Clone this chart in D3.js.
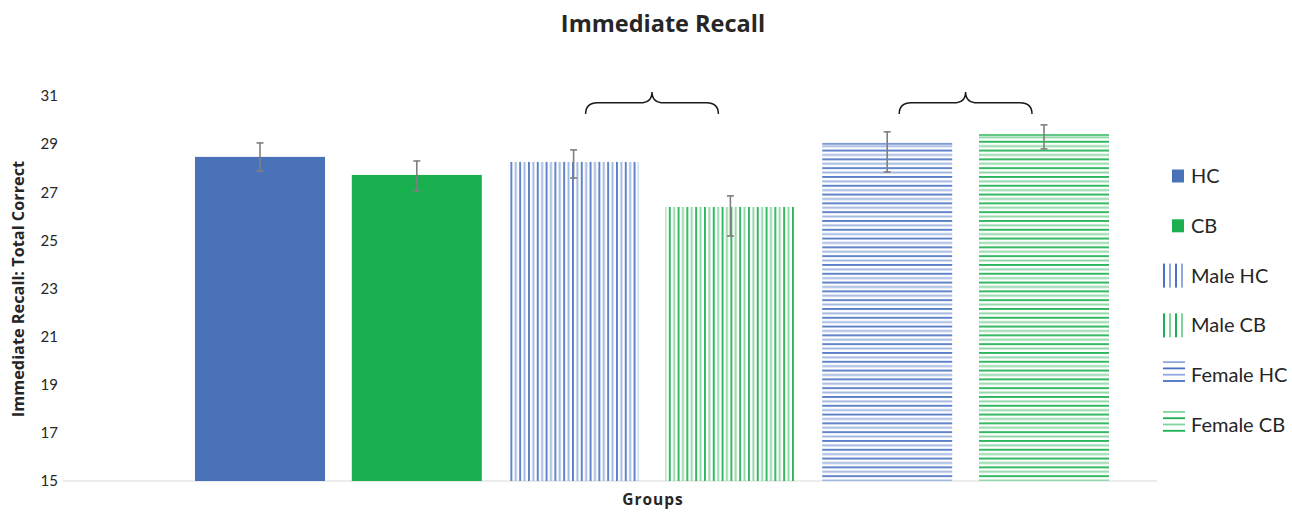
<!DOCTYPE html>
<html>
<head>
<meta charset="utf-8">
<script src="https://cdn.jsdelivr.net/npm/d3@7"></script>
<style>
  html, body { margin: 0; padding: 0; background: #fff; }
  svg { display: block; }
</style>
</head>
<body>
<svg id="chart" width="1292" height="512"></svg>
<script>
// ---- data ----
const categories = ["HC", "CB", "Male HC", "Male CB", "Female HC", "Female CB"];
const means      = [28.47, 27.72, 28.26, 26.39, 29.05, 29.42];
const errLower   = [27.88, 27.05, 27.59, 25.18, 27.84, 28.80];
const errUpper   = [29.05, 28.30, 28.76, 26.85, 29.51, 29.80];
const yTicks     = [15, 17, 19, 21, 23, 25, 27, 29, 31];
const bracePairs = [["Male HC", "Male CB"], ["Female HC", "Female CB"]];
const legendLabels = ["HC", "CB", "Male HC", "Male CB", "Female HC", "Female CB"];

const fills = ["#4a72b8", "#1aaf4f", "url(#vBlue)", "url(#vGreen)", "url(#hBlue)", "url(#hGreen)"];

const svg = d3.select("#chart");

// ---- patterns ----
const defs = svg.append("defs");
function stripe(id, dir, dark, light) {
  const p = defs.append("pattern").attr("id", id).attr("patternUnits", "userSpaceOnUse");
  if (dir === "v") {
    p.attr("width", 8.8).attr("height", 10);
    p.append("rect").attr("x", 0).attr("y", 0).attr("width", 1.9).attr("height", 10).attr("fill", dark);
    p.append("rect").attr("x", 4.4).attr("y", 0).attr("width", 1.9).attr("height", 10).attr("fill", light);
  } else {
    p.attr("width", 10).attr("height", 8.8);
    p.append("rect").attr("x", 0).attr("y", 0).attr("width", 10).attr("height", 1.9).attr("fill", dark);
    p.append("rect").attr("x", 0).attr("y", 4.4).attr("width", 10).attr("height", 1.9).attr("fill", light);
  }
}
stripe("vBlue", "v", "#5b80c8", "#9fb5e0");
stripe("vGreen", "v", "#2cb75c", "#8ed6a6");
stripe("hBlue", "h", "#5b80c8", "#9fb5e0");
stripe("hGreen", "h", "#2cb75c", "#8ed6a6");

// ---- scales ----
const y = d3.scaleLinear().domain([15, 31]).range([481, 96]);
const x = d3.scaleBand().domain(categories).range([181.6, 1122.4]).paddingInner(0.171).paddingOuter(0.0855);

// ---- y axis ----
const yAxis = svg.append("g").attr("transform", "translate(58,0)")
  .call(d3.axisLeft(y).tickValues(yTicks).tickSize(0).tickPadding(0).tickFormat(d3.format("d")));
yAxis.select(".domain").remove();
yAxis.selectAll("text")
  .attr("font-family", "Lato, 'Liberation Sans', sans-serif")
  .attr("font-size", 15)
  .attr("fill", "#262626");

// baseline
svg.append("line")
  .attr("x1", 63).attr("x2", 1157)
  .attr("y1", y(15)).attr("y2", y(15))
  .attr("stroke", "#d9d9d9").attr("stroke-width", 1.2);

// ---- bars ----
svg.append("g").selectAll("rect")
  .data(categories)
  .join("rect")
  .attr("x", d => x(d))
  .attr("width", x.bandwidth())
  .attr("y", (d, i) => y(means[i]))
  .attr("height", (d, i) => y(15) - y(means[i]))
  .attr("fill", (d, i) => fills[i]);

// top edge line for horizontally striped bars
svg.append("g").selectAll("line")
  .data(categories.slice(4))
  .join("line")
  .attr("x1", d => x(d)).attr("x2", d => x(d) + x.bandwidth())
  .attr("y1", d => y(means[categories.indexOf(d)]) + 1)
  .attr("y2", d => y(means[categories.indexOf(d)]) + 1)
  .attr("stroke", (d, i) => i === 0 ? "#7f9bd4" : "#2cb75c")
  .attr("stroke-width", 1.6);

// ---- error bars ----
const eg = svg.append("g").attr("stroke", "#7f7f7f").attr("stroke-width", 1.6);
categories.forEach((c, i) => {
  const cx = x(c) + x.bandwidth() / 2;
  eg.append("line").attr("x1", cx).attr("x2", cx).attr("y1", y(errUpper[i])).attr("y2", y(errLower[i]));
  eg.append("line").attr("x1", cx - 3.5).attr("x2", cx + 3.5).attr("y1", y(errUpper[i])).attr("y2", y(errUpper[i]));
  eg.append("line").attr("x1", cx - 3.5).attr("x2", cx + 3.5).attr("y1", y(errLower[i])).attr("y2", y(errLower[i]));
});

// ---- braces ----
const braceTop = y(31.17), braceMid = y(30.72), braceBot = y(30.25);
bracePairs.forEach(([a, b]) => {
  const x1 = x(a) + x.bandwidth() / 2 + 12;
  const x2 = x(b) + x.bandwidth() / 2 - 12;
  const xm = (x1 + x2) / 2;
  const r = 12;
  const path = `M${x1},${braceBot} Q${x1},${braceMid} ${x1 + r},${braceMid} L${xm - r},${braceMid} Q${xm},${braceMid} ${xm},${braceTop} Q${xm},${braceMid} ${xm + r},${braceMid} L${x2 - r},${braceMid} Q${x2},${braceMid} ${x2},${braceBot}`;
  svg.append("path").attr("d", path).attr("fill", "none").attr("stroke", "#1a1a1a").attr("stroke-width", 1.5);
});

// ---- titles ----
svg.append("text")
  .attr("x", 663).attr("y", 32)
  .attr("text-anchor", "middle")
  .attr("font-family", "'Open Sans', sans-serif")
  .attr("font-weight", "bold")
  .attr("font-size", 23.5)
  .attr("fill", "#262626")
  .text("Immediate Recall");

svg.append("text")
  .attr("transform", "translate(24,289) rotate(-90)")
  .attr("text-anchor", "middle")
  .attr("font-family", "'Open Sans', sans-serif")
  .attr("font-weight", "bold")
  .attr("font-size", 16.3)
  .attr("fill", "#262626")
  .text("Immediate Recall: Total Correct");

svg.append("text")
  .attr("x", 653).attr("y", 505)
  .attr("text-anchor", "middle")
  .attr("font-family", "'Open Sans', sans-serif")
  .attr("font-weight", "bold")
  .attr("font-size", 15.5)
  .attr("letter-spacing", 1)
  .attr("fill", "#262626")
  .text("Groups");

// ---- legend ----
const legendY = d3.scalePoint().domain(legendLabels).range([176, 425]);
const lg = svg.append("g");
legendLabels.forEach((lab, i) => {
  const cy = legendY(lab);
  const g = lg.append("g");
  if (i < 2) {
    g.append("rect").attr("x", 1172).attr("y", cy - 6.5).attr("width", 12).attr("height", 13).attr("fill", fills[i]);
  } else if (i < 4) {
    const dark = i === 2 ? "#4a72c0" : "#1aaf4f";
    const light = i === 2 ? "#8fa9dc" : "#7fd49c";
    [0, 1, 2, 3].forEach(k => {
      g.append("rect").attr("x", 1163 + k * 6).attr("y", cy - 12).attr("width", 2)
        .attr("height", 24).attr("fill", k % 2 === 0 ? dark : light);
    });
  } else {
    const dark = i === 4 ? "#4a72c0" : "#1aaf4f";
    const light = i === 4 ? "#8fa9dc" : "#7fd49c";
    [0, 1, 2, 3].forEach(k => {
      g.append("rect").attr("x", 1163).attr("y", cy - 14 + k * 6.3).attr("width", 22)
        .attr("height", 1.8).attr("fill", k % 2 === 0 ? light : dark);
    });
  }
  g.append("text")
    .attr("x", 1191).attr("y", cy + 7)
    .attr("font-family", "Lato, 'Liberation Sans', sans-serif")
    .attr("font-size", 20)
    .attr("fill", "#262626")
    .text(lab);
});
</script>
</body>
</html>
